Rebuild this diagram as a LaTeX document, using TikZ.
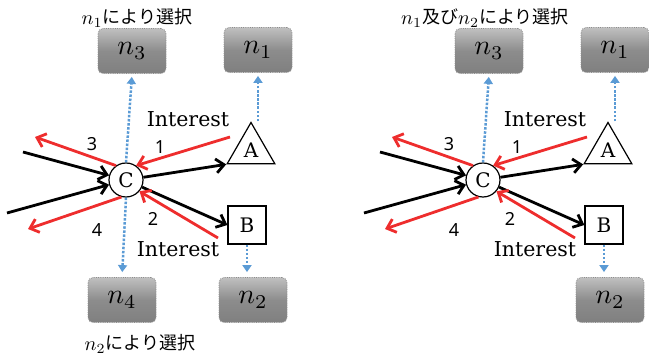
\documentclass[tikz,border=0pt]{standalone}
\usepackage{graphicx}
\usepackage{fontspec}
\newfontfamily\jpfont{Noto Sans CJK JP}
\newfontfamily\lblfont{DejaVu Serif}
\newfontfamily\numfont{Noto Sans}
\usetikzlibrary{arrows.meta,shapes.geometric,calc}
\definecolor{myred}{RGB}{238,45,45}
\definecolor{myblue}{RGB}{91,155,213}
\newcommand{\bigN}[1]{\scalebox{2.8}{\fontsize{10}{12}\selectfont$n_{#1}$}}
\newcommand{\lblN}[1]{\raisebox{-1pt}{\scalebox{2.0}{\fontsize{10}{12}\selectfont$n_{#1}$}}}
\begin{document}
\begin{tikzpicture}[x=1pt,y=-1pt,
  graybox/.style={rectangle, rounded corners=5pt, minimum width=68pt, minimum height=45pt,
    top color=black!25, bottom color=black!50, middle color=black!45, draw=black!45,
    densely dotted, line width=0.8pt, inner sep=0pt},
  circnode/.style={circle, draw, line width=1.2pt, minimum size=34pt, inner sep=0pt, fill=white,
    font=\lblfont\fontsize{20}{22}\selectfont},
  trinode/.style={regular polygon, regular polygon sides=3, draw, line width=1.2pt,
    minimum size=55pt, inner sep=0pt, fill=white, font=\lblfont\fontsize{20}{22}\selectfont},
  sqnode/.style={rectangle, draw, line width=1.2pt, minimum size=38pt, inner sep=0pt, fill=white,
    font=\lblfont\fontsize{20}{22}\selectfont},
  blk/.style={line width=2.8pt, black, -{Straight Barb[length=8pt,width=14pt]}},
  redarr/.style={line width=2.8pt, myred, -{Straight Barb[length=8pt,width=14pt]}},
  bluearr/.style={line width=2.5pt, myblue, dash pattern=on 2.5pt off 1.6pt,
    -{Triangle[length=7pt,width=9pt]}, shorten >=3pt},
  lbl/.style={font=\lblfont\fontsize{20.5}{22}\selectfont, inner sep=0pt},
  num/.style={font=\numfont\fontsize{18}{20}\selectfont, inner sep=0pt},
  jp/.style={font=\jpfont\fontsize{18}{20}\selectfont, inner sep=0pt}
]
\useasboundingbox (0,0) rectangle (649,358);

% ---------------- Left diagram ----------------
\node[graybox] (Ln3) at (132,51) {\bigN{3}};
\node[graybox] (Ln1) at (258,50) {\bigN{1}};
\node[graybox] (Ln4) at (122,300) {\bigN{4}};
\node[graybox] (Ln2) at (253,300) {\bigN{2}};

\coordinate (Lin1) at (23,152);
\coordinate (Lin2) at (7,213);
\coordinate (Lr1) at (230,137);
\coordinate (Lr3) at (35,137);
\coordinate (Lr2) at (218,238);
\coordinate (Lr4) at (28,229);

\node[circnode] (LC) at (126,180) {C};
\node[trinode] (LA) at (251,150) {\raisebox{-4pt}{A}};
\node[sqnode] (LB) at (247,225) {B};

\draw[bluearr] (LC.north) -- (Ln3.south);
\draw[bluearr] (LA.corner 1 -| Ln1.south) -- (Ln1.south);
\draw[bluearr, shorten >=5pt] (LC.south) -- (Ln4.north);
\draw[bluearr, shorten >=5pt] (LB.south) -- (LB.south |- Ln2.north);

\draw[blk] (Lin1) -- (LC);
\draw[blk] (Lin2) -- (LC);
\draw[blk] (LC) -- (LA.corner 2);
\draw[blk] (LC) -- (LB.west);

\draw[redarr] (Lr1) -- (LC.55);
\draw[redarr] (LC.125) -- (Lr3);
\draw[redarr] (Lr2) -- (LC.-40);
\draw[redarr] (LC.-105) -- (Lr4);

\node[lbl] (Lint1) at (188,119) {Interest};
\node[lbl] (Lint2) at (178,249) {Interest};
\node[num] (Lk1) at (160,147) {1};
\node[num] (Lk3) at (92,144) {3};
\node[num] (Lk2) at (153,219) {2};
\node[num] (Lk4) at (97,230) {4};
\node[jp] (Lsel1) at (137,18) {\lblN{1}により選択};
\node[jp] (Lsel2) at (140,344) {\lblN{2}により選択};

% ---------------- Right diagram ----------------
\node[graybox] (Rn3) at (489,51) {\bigN{3}};
\node[graybox] (Rn1) at (615,50) {\bigN{1}};
\node[graybox] (Rn2) at (610,300) {\bigN{2}};

\coordinate (Rin1) at (380,152);
\coordinate (Rin2) at (364,213);
\coordinate (Rr1) at (587,137);
\coordinate (Rr3) at (392,137);
\coordinate (Rr2) at (575,238);
\coordinate (Rr4) at (385,229);

\node[circnode] (RC) at (483,180) {C};
\node[trinode] (RA) at (608,150) {\raisebox{-4pt}{A}};
\node[sqnode] (RB) at (604,225) {B};

\draw[bluearr] (RC.north) -- (Rn3.south);
\draw[bluearr] (RA.corner 1 -| Rn1.south) -- (Rn1.south);
\draw[bluearr, shorten >=5pt] (RB.south) -- (RB.south |- Rn2.north);

\draw[blk] (Rin1) -- (RC);
\draw[blk] (Rin2) -- (RC);
\draw[blk] (RC) -- (RA.corner 2);
\draw[blk] (RC) -- (RB.west);

\draw[redarr] (Rr1) -- (RC.55);
\draw[redarr] (RC.125) -- (Rr3);
\draw[redarr] (Rr2) -- (RC.-40);
\draw[redarr] (RC.-105) -- (Rr4);

\node[lbl] (Rint1) at (545,119) {Interest};
\node[lbl] (Rint2) at (535,249) {Interest};
\node[num] (Rk1) at (517,147) {1};
\node[num] (Rk3) at (449,144) {3};
\node[num] (Rk2) at (510,219) {2};
\node[num] (Rk4) at (454,230) {4};
\node[jp] (Rsel1) at (485,18) {\lblN{1}及び\lblN{2}により選択};
\end{tikzpicture}
\end{document}
